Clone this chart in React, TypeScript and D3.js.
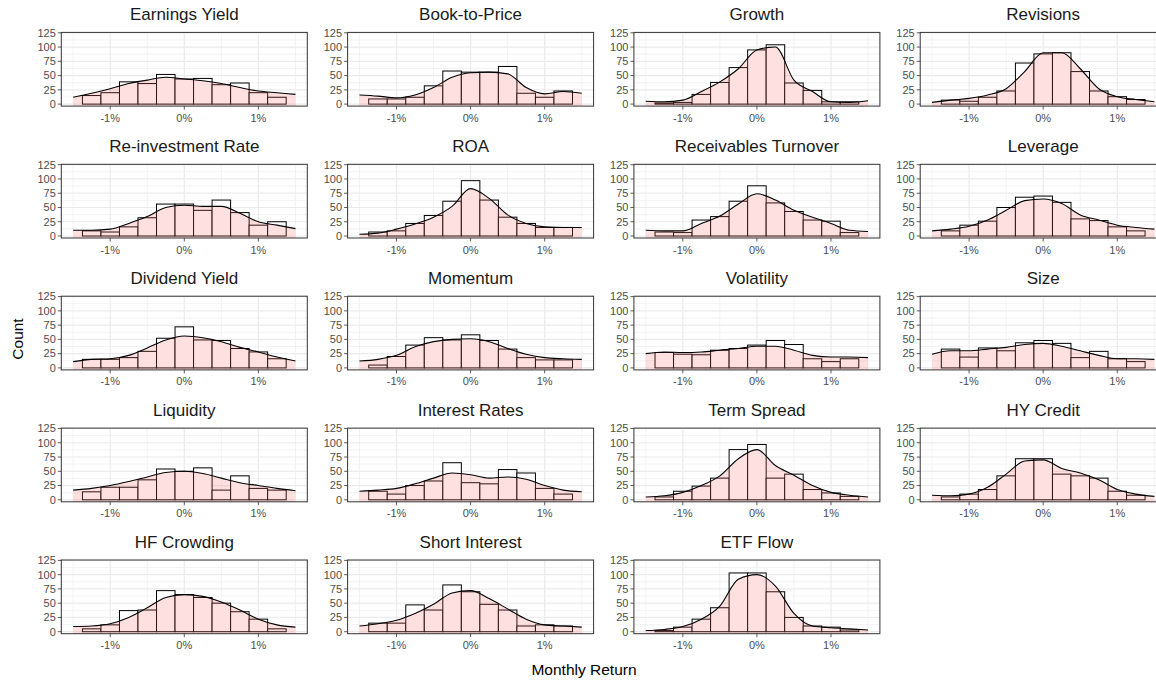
import React from "react";
import * as d3 from "d3";

// facet layout of the page
const Layout = {
  width: 1156,
  height: 681,
  panelW: 246,
  panelH: 73.7,
  left0: 61.3,
  colStep: 286.3,
  top0: 32.4,
  rowStep: 131.9,
  cols: 4,
};

const binCenters = [-1.25, -1.0, -0.75, -0.5, -0.25, 0, 0.25, 0.5, 0.75, 1.0, 1.25];
const binWidth = 0.25;
const densityGrid = [-1.5, -1.25, -1.0, -0.75, -0.5, -0.25, 0, 0.25, 0.5, 0.75, 1.0, 1.25, 1.5];

const xMajor = [-1, 0, 1];
const xMinor = [-1.5, -0.5, 0.5, 1.5];
const yMajor = [0, 25, 50, 75, 100, 125];
const yMinor = [12.5, 37.5, 62.5, 87.5, 112.5];

// counts per bin, density (scaled to counts) on densityGrid
const earningsYieldCounts = [15, 20, 39, 36, 52, 44, 45, 34, 37, 20, 12];
const earningsYieldDensity = [12, 19, 27, 36, 42, 47, 44, 41, 36, 29, 23, 20, 17];
const bookToPriceCounts = [9, 9, 12, 32, 58, 56, 56, 66, 19, 12, 23];
const bookToPriceDensity = [16, 14, 11, 16, 29, 47, 55, 56, 53, 29, 18, 22, 19];
const growthCounts = [2, 3, 17, 38, 64, 95, 104, 37, 24, 4, 4];
const growthDensity = [5, 4, 7, 22, 39, 62, 95, 100, 42, 22, 4, 3, 6];
const revisionsCounts = [7, 5, 12, 23, 72, 88, 90, 57, 23, 13, 8];
const revisionsDensity = [3, 7, 10, 16, 27, 57, 90, 90, 62, 27, 13, 8, 4];

const reinvestmentCounts = [9, 7, 16, 32, 56, 56, 45, 63, 41, 19, 25];
const reinvestmentDensity = [10, 10, 12, 22, 34, 50, 54, 52, 52, 40, 25, 19, 13];
const roaCounts = [7, 9, 22, 36, 61, 97, 63, 33, 22, 15, 15];
const roaDensity = [3, 5, 12, 21, 33, 52, 83, 66, 37, 22, 16, 15, 15];
const receivablesCounts = [7, 6, 28, 34, 61, 88, 58, 43, 28, 26, 6];
const receivablesDensity = [10, 9, 9, 22, 35, 56, 74, 63, 45, 33, 22, 10, 8];
const leverageCounts = [9, 19, 26, 50, 68, 70, 59, 30, 27, 16, 9];
const leverageDensity = [9, 12, 17, 28, 45, 62, 65, 57, 37, 28, 19, 15, 12];

const dividendYieldCounts = [15, 15, 18, 29, 52, 72, 49, 48, 34, 28, 16];
const dividendYieldDensity = [11, 15, 16, 22, 35, 49, 56, 53, 46, 36, 28, 19, 12];
const momentumCounts = [5, 20, 40, 53, 49, 58, 48, 33, 18, 14, 14];
const momentumDensity = [12, 15, 22, 37, 46, 50, 51, 46, 34, 24, 18, 16, 15];
const volatilityCounts = [27, 24, 23, 31, 34, 40, 48, 41, 16, 11, 16];
const volatilityDensity = [25, 28, 27, 28, 31, 34, 38, 38, 31, 22, 19, 19, 18];
const sizeCounts = [33, 19, 35, 30, 44, 48, 43, 18, 29, 16, 11];
const sizeDensity = [24, 30, 30, 33, 36, 41, 43, 38, 30, 22, 16, 16, 15];

const liquidityCounts = [14, 22, 22, 35, 54, 50, 56, 17, 42, 20, 17];
const liquidityDensity = [17, 20, 25, 32, 40, 48, 50, 46, 38, 30, 25, 20, 16];
const interestRatesCounts = [15, 10, 25, 33, 65, 30, 28, 53, 47, 20, 10];
const interestRatesDensity = [15, 17, 20, 28, 38, 47, 44, 38, 40, 36, 25, 17, 14];
const termSpreadCounts = [5, 15, 24, 38, 88, 97, 38, 45, 18, 12, 6];
const termSpreadDensity = [5, 7, 13, 25, 42, 72, 88, 60, 43, 25, 13, 8, 5];
const hyCreditCounts = [5, 10, 18, 42, 72, 72, 45, 42, 38, 15, 8];
const hyCreditDensity = [8, 7, 10, 22, 45, 68, 70, 55, 47, 35, 18, 10, 6];

const hfCrowdingCounts = [5, 12, 37, 38, 72, 65, 60, 50, 35, 22, 5];
const hfCrowdingDensity = [9, 10, 14, 25, 42, 60, 65, 62, 52, 38, 22, 12, 8];
const shortInterestCounts = [15, 15, 47, 38, 82, 70, 48, 38, 10, 12, 10];
const shortInterestDensity = [10, 14, 20, 32, 48, 68, 72, 58, 40, 22, 12, 10, 8];
const etfFlowCounts = [2, 8, 22, 42, 103, 103, 70, 25, 10, 8, 3];
const etfFlowDensity = [2, 4, 9, 22, 45, 92, 100, 80, 32, 10, 7, 5, 3];

const panels = [
  { name: "Earnings Yield", counts: earningsYieldCounts, density: earningsYieldDensity },
  { name: "Book-to-Price", counts: bookToPriceCounts, density: bookToPriceDensity },
  { name: "Growth", counts: growthCounts, density: growthDensity },
  { name: "Revisions", counts: revisionsCounts, density: revisionsDensity },
  { name: "Re-investment Rate", counts: reinvestmentCounts, density: reinvestmentDensity },
  { name: "ROA", counts: roaCounts, density: roaDensity },
  { name: "Receivables Turnover", counts: receivablesCounts, density: receivablesDensity },
  { name: "Leverage", counts: leverageCounts, density: leverageDensity },
  { name: "Dividend Yield", counts: dividendYieldCounts, density: dividendYieldDensity },
  { name: "Momentum", counts: momentumCounts, density: momentumDensity },
  { name: "Volatility", counts: volatilityCounts, density: volatilityDensity },
  { name: "Size", counts: sizeCounts, density: sizeDensity },
  { name: "Liquidity", counts: liquidityCounts, density: liquidityDensity },
  { name: "Interest Rates", counts: interestRatesCounts, density: interestRatesDensity },
  { name: "Term Spread", counts: termSpreadCounts, density: termSpreadDensity },
  { name: "HY Credit", counts: hyCreditCounts, density: hyCreditDensity },
  { name: "HF Crowding", counts: hfCrowdingCounts, density: hfCrowdingDensity },
  { name: "Short Interest", counts: shortInterestCounts, density: shortInterestDensity },
  { name: "ETF Flow", counts: etfFlowCounts, density: etfFlowDensity },
];

const FONT = "'Liberation Sans', Arial, Helvetica, sans-serif";

function Panel({ name, counts, density, left, top }) {
  const x = d3
    .scaleLinear()
    .domain([-1.66, 1.66])
    .range([left, left + Layout.panelW]);
  const y = d3
    .scaleLinear()
    .domain([-3.5, 125.7])
    .range([top + Layout.panelH, top]);

  const pts = densityGrid.map((g, i) => [g, density[i]]);
  const area = d3
    .area()
    .x((d) => x(d[0]))
    .y0(y.range()[0])
    .y1((d) => y(d[1]))
    .curve(d3.curveMonotoneX);
  const line = d3
    .line()
    .x((d) => x(d[0]))
    .y((d) => y(d[1]))
    .curve(d3.curveMonotoneX);

  const bottom = top + Layout.panelH;

  return (
    <g>
      <rect x={left} y={top} width={Layout.panelW} height={Layout.panelH} fill="#fff" />
      {xMinor.map((v) => (
        <line key={"xm" + v} x1={x(v)} x2={x(v)} y1={top} y2={bottom} stroke="#EBEBEB" strokeWidth={0.6} />
      ))}
      {yMinor.map((v) => (
        <line key={"ym" + v} x1={left} x2={left + Layout.panelW} y1={y(v)} y2={y(v)} stroke="#EBEBEB" strokeWidth={0.6} />
      ))}
      {xMajor.map((v) => (
        <line key={"xM" + v} x1={x(v)} x2={x(v)} y1={top} y2={bottom} stroke="#EBEBEB" strokeWidth={1.2} />
      ))}
      {yMajor.map((v) => (
        <line key={"yM" + v} x1={left} x2={left + Layout.panelW} y1={y(v)} y2={y(v)} stroke="#EBEBEB" strokeWidth={1.2} />
      ))}
      {counts.map((c, i) => (
        <rect
          key={"b" + i}
          x={x(binCenters[i] - binWidth / 2)}
          y={y(c)}
          width={x(binCenters[i] + binWidth / 2) - x(binCenters[i] - binWidth / 2)}
          height={y(0) - y(c)}
          fill="#fff"
          stroke="#000"
          strokeWidth={1}
        />
      ))}
      <path d={area(pts)} fill="#FF6666" fillOpacity={0.2} />
      <path d={line(pts)} fill="none" stroke="#000" strokeWidth={1.1} />
      <rect x={left} y={top} width={Layout.panelW} height={Layout.panelH} fill="none" stroke="#333333" strokeWidth={1} />

      {yMajor.map((v) => (
        <g key={"yt" + v}>
          <line x1={left - 3.5} x2={left} y1={y(v)} y2={y(v)} stroke="#333333" strokeWidth={0.8} />
          <text
            x={left - 5.5}
            y={y(v)}
            dy="0.35em"
            textAnchor="end"
            fontSize={11}
            fill="#4D4D4D"
            fontFamily={FONT}
          >
            {v}
          </text>
        </g>
      ))}
      {xMajor.map((v) => (
        <g key={"xt" + v}>
          <line x1={x(v)} x2={x(v)} y1={bottom} y2={bottom + 3.5} stroke="#333333" strokeWidth={0.8} />
          <text
            x={x(v)}
            y={bottom + 15.5}
            textAnchor="middle"
            fontSize={11}
            fill="#4D4D4D"
            fontFamily={FONT}
          >
            {`${v}%`}
          </text>
        </g>
      ))}
      <text
        x={left + Layout.panelW / 2}
        y={top - 12.5}
        textAnchor="middle"
        fontSize={17}
        fill="#1A1A1A"
        fontFamily={FONT}
      >
        {name}
      </text>
    </g>
  );
}

export default function App() {
  return (
    <svg
      width={Layout.width}
      height={Layout.height}
      style={{ position: "absolute", left: 0, top: 0, background: "#fff", overflow: "hidden" }}
    >
      <rect width={Layout.width} height={Layout.height} fill="#fff" />
      {panels.map((p, i) => {
        const col = i % Layout.cols;
        const row = Math.floor(i / Layout.cols);
        return (
          <Panel
            key={p.name}
            name={p.name}
            counts={p.counts}
            density={p.density}
            left={Layout.left0 + col * Layout.colStep}
            top={Layout.top0 + row * Layout.rowStep}
          />
        );
      })}
      <text
        transform="translate(23,339) rotate(-90)"
        textAnchor="middle"
        fontSize={15.5}
        fill="#000"
        fontFamily={FONT}
      >
        Count
      </text>
      <text x={584} y={675} textAnchor="middle" fontSize={15.5} fill="#000" fontFamily={FONT}>
        Monthly Return
      </text>
    </svg>
  );
}
